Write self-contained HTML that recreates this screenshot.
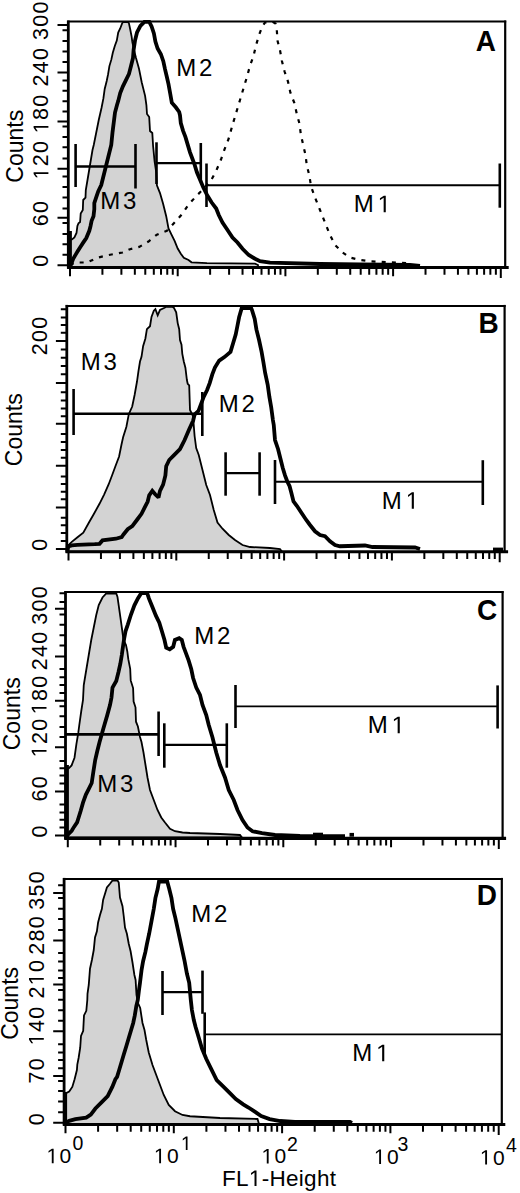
<!DOCTYPE html>
<html><head><meta charset="utf-8"><title>FL1-Height histograms</title>
<style>
html,body{margin:0;padding:0;background:#fff;}
body{width:520px;height:1193px;overflow:hidden;}
svg{display:block;font-family:"Liberation Sans", sans-serif;}
text{font-family:"Liberation Sans", sans-serif;fill:#000;}
</style></head><body>
<svg width="520" height="1193" viewBox="0 0 520 1193">
<rect x="0" y="0" width="520" height="1193" fill="#fff"/>
<polygon points="68.8,267.4 68.8,239.5 72,239.4 74.4,237.5 76.5,233 77.4,226 78.5,223.2 80.1,222 80.7,213.5 82.8,210 83.2,200 85.5,197.7 85.8,190 87.5,180 90,165 92.5,150 93.75,145 96.25,132.5 98.75,120 101.5,108 103.4,98.4 104.7,89 106.7,81 108.1,74.2 109.4,66.1 111.4,59.4 112.8,52.7 114.8,46 116.8,40.6 118.2,32.5 120.2,28.5 122.2,23.1 123,22.2 128,22.2 128.9,23.1 130.3,29.8 131.6,36.5 132.3,41.9 134,50 136,58 139,68.8 141.7,82.3 145.1,95.8 146.4,105 147,114 149.2,117 150,131 152.3,133 153.1,146 154.6,161.5 156.2,172 156.9,185.4 160,193.1 163.1,203.8 166.2,216.2 168.5,228.5 171.5,234.6 174.6,240.8 177.7,248.5 180.8,253.8 183.8,257.7 188.5,260 191.5,262.3 206.9,263.1 255,263.6 258,265 258,267.4" fill="#d3d3d3" stroke="#000" stroke-width="1.8" stroke-linejoin="miter"/>
<polyline points="70,265 75.4,262.5 87,262.5 97.5,257.7 107,255.3 122.5,252.5 130,249.2 139.2,246.9 148.5,241.5 156.9,234.6 166.9,230.8 176.2,220.8 182.3,213.8 188.5,204.6 197.7,194.6 203.75,188.75 211.25,180 216.2,170.8 220.8,160 224.6,149.2 228.5,139.2 232.5,125 236.25,112.5 240,100 243.75,87.5 247.5,75 249.9,66 253.4,56.5 256,45.3 259.4,34 262.5,26 265,22.5 272.5,21.8 275.5,23.5 276.7,28.8 277.6,41 280.2,51.3 281.9,60.9 284.5,71.3 288,81.6 290.4,92.7 294.4,103.1 296.7,113.5 299.5,123.8 300.8,134.2 303.1,144.6 305.5,155 306.8,165.4 309.4,175.8 311,186.2 314.6,196.5 320,210 325,222.5 330,235 335,245 342.5,252.5 350,257.5 360,260 370,261.25 412,263.5" fill="none" stroke="#000" stroke-width="2.2" stroke-dasharray="4 6.2"/>
<polyline points="70,267 70.8,265 73.2,258.8 75.5,254.9 77.8,251.1 80.2,247.2 83.2,242.6 86.3,238 89.3,230.8 90.5,226.2 91.6,220.8 93.5,216.2 94.3,209.2 94.3,203.1 96.6,196.2 98.2,191.5 101.25,185 103.75,175 106.25,165 108.75,155 111.25,145 112.5,132.5 113.75,122.5 115,112.5 117,105 118.2,101.1 120.2,93.1 122.9,86.3 126.2,79.6 128.9,74.2 131,66.1 133,58 133.6,50 135,40.6 137,32.5 140.4,25.8 144.4,21.8 149.3,21.8 151.6,26.5 153.9,33.5 155.4,41.5 157.6,48.5 160.9,54.2 163.3,61.2 165,69.2 166.7,76.2 168.5,84.2 170.2,93.5 171.8,102.7 175.8,107.3 179.2,112 180,115.4 180.8,123.1 183.1,130.8 185.4,136.9 187.7,144.6 190,152.3 192.3,158.5 194.6,164.6 196.9,172.3 199.2,177.7 203.1,186.9 206.9,194.6 211.5,202.3 216.2,208.5 218.75,215 222.5,222.5 227.5,230 232.5,237.5 237.5,242.5 242.5,248.75 248.75,255 255,258.75 260,261.25 270,262.6 320,264 360,264.5 410,265 420,266" fill="none" stroke="#000" stroke-width="3.8" stroke-linejoin="miter" stroke-miterlimit="2"/>
<polyline points="70,231 70,267" fill="none" stroke="#000" stroke-width="3.8"/>
<line x1="75.6" y1="166.5" x2="135.5" y2="166.5" stroke="#000" stroke-width="2.6"/>
<line x1="75.6" y1="144" x2="75.6" y2="187" stroke="#000" stroke-width="2.6"/>
<line x1="135.5" y1="144" x2="135.5" y2="188.5" stroke="#000" stroke-width="2.6"/>
<line x1="156.5" y1="163.1" x2="200.8" y2="163.1" stroke="#000" stroke-width="2.3"/>
<line x1="156.5" y1="142.3" x2="156.5" y2="184" stroke="#000" stroke-width="2.6"/>
<line x1="200.8" y1="143" x2="200.8" y2="181" stroke="#000" stroke-width="2.6"/>
<line x1="206.5" y1="185.2" x2="499.8" y2="185.2" stroke="#000" stroke-width="1.9"/>
<line x1="206.5" y1="163.5" x2="206.5" y2="207" stroke="#000" stroke-width="2.6"/>
<line x1="499.8" y1="163.5" x2="499.8" y2="207.7" stroke="#000" stroke-width="2.6"/>
<line x1="67.3" y1="21.5" x2="506.2" y2="21.5" stroke="#000" stroke-width="2"/>
<line x1="505.2" y1="20.5" x2="505.2" y2="267.5" stroke="#000" stroke-width="2.2"/>
<line x1="68.3" y1="20.5" x2="68.3" y2="268.5" stroke="#000" stroke-width="2.8"/>
<line x1="67.1" y1="267.5" x2="508.7" y2="267.5" stroke="#000" stroke-width="3.1"/>
<path d="M57.5 25H68.3M57.5 72.5H68.3M57.5 121.6H68.3M57.5 168.8H68.3M57.5 217.7H68.3M57.5 265.2H68.3M62.5 30.2H68.3M62.5 41H68.3M62.5 51.6H68.3M62.5 62H68.3M62.5 80.5H68.3M62.5 90.8H68.3M62.5 101.2H68.3M62.5 111.5H68.3M62.5 126.5H68.3M62.5 136.9H68.3M62.5 147.3H68.3M62.5 158.4H68.3M62.5 176.6H68.3M62.5 187H68.3M62.5 197.5H68.3M62.5 208.5H68.3M62.5 222.9H68.3M62.5 233.9H68.3M62.5 244.3H68.3M62.5 254.8H68.3" stroke="#000" stroke-width="2" fill="none"/>
<path d="M70 267.5V276.3M102.42 267.5V274.7M121.39 267.5V274.7M134.84 267.5V274.7M145.28 267.5V274.7M153.81 267.5V274.7M161.02 267.5V274.7M167.26 267.5V274.7M172.77 267.5V274.7M177.7 267.5V276.3M210.12 267.5V274.7M229.09 267.5V274.7M242.54 267.5V274.7M252.98 267.5V274.7M261.51 267.5V274.7M268.72 267.5V274.7M274.96 267.5V274.7M280.47 267.5V274.7M285.4 267.5V276.3M317.82 267.5V274.7M336.79 267.5V274.7M350.24 267.5V274.7M360.68 267.5V274.7M369.21 267.5V274.7M376.42 267.5V274.7M382.66 267.5V274.7M388.17 267.5V274.7M393.1 267.5V276.3M425.52 267.5V274.7M444.49 267.5V274.7M457.94 267.5V274.7M468.38 267.5V274.7M476.91 267.5V274.7M484.12 267.5V274.7M490.36 267.5V274.7M495.87 267.5V274.7M500.8 267.5V278" stroke="#000" stroke-width="2" fill="none"/>
<g transform="translate(48.4 20.7) rotate(-90)"><text x="-19.24 -5.98 7.28" y="0" font-size="21.5">300</text></g>
<g transform="translate(48.4 67.3) rotate(-90)"><text x="-19.24 -5.98 7.28" y="0" font-size="21.5">240</text></g>
<g transform="translate(48.4 114) rotate(-90)"><path d="M515 0L515 1237L197 1010L197 1180L530 1409L696 1409L696 0Z" transform="translate(-19.24 0) scale(0.01050 -0.01050)"/><text x="-5.98 7.28" y="0" font-size="21.5">80</text></g>
<g transform="translate(48.4 160.2) rotate(-90)"><path d="M515 0L515 1237L197 1010L197 1180L530 1409L696 1409L696 0Z" transform="translate(-19.24 0) scale(0.01050 -0.01050)"/><text x="-5.98 7.28" y="0" font-size="21.5">20</text></g>
<g transform="translate(48.4 213.7) rotate(-90)"><text x="-12.61 0.65" y="0" font-size="21.5">60</text></g>
<g transform="translate(48.4 260.7) rotate(-90)"><text x="-5.98" y="0" font-size="21.5">0</text></g>
<g transform="translate(22.6 146.2) rotate(-90)"><text x="-36.44 -19.83 -7.04 5.76 18.55 24.94" y="0" font-size="23">Counts</text></g>
<text transform="translate(475.8 50.6) scale(1 1.075)" x="0" y="0" font-size="28" font-weight="bold">A</text>
<g transform="translate(100.23 208.6)"><text x="0 22.89" y="0" font-size="24">M3</text></g>
<g transform="translate(176.13 75.6)"><text x="0 22.79" y="0" font-size="24">M2</text></g>
<g transform="translate(353.63 212.2)"><text x="0" y="0" font-size="24">M</text><path d="M515 0L515 1237L197 1010L197 1180L530 1409L696 1409L696 0Z" transform="translate(23.99 0) scale(0.01172 -0.01172)"/></g>
<polygon points="66.8,551.7 66.8,546.5 69.5,544.2 71.8,541.9 77.5,537.3 83.3,532.7 89.1,522.3 93.7,514.2 99.5,503.8 104.1,494.6 108.7,484.2 112.2,475 115.6,465.8 119.1,456.5 121.4,445 123.1,437.3 126.4,426.7 128.8,414.2 132.2,406.5 134.6,395 137,381.5 138.5,370.8 140,361.5 141.5,356.9 143.1,346.2 145.4,338.5 146.9,329.2 150,326.2 151.5,316.9 153.8,310.8 155.4,309.2 157.7,315.4 160,310 164.6,307.7 166.2,306.8 172.3,306.8 173.8,307.7 176.2,312.3 177.7,323.1 179.2,329.2 180,340 181.5,344.6 182.3,353.8 183.8,361.5 185.4,367.7 186.9,380 187.7,383.8 189.2,385.4 190,410 193,416 194.6,436 196.2,448 198.75,455 202.5,470 206.25,485 210,495 213.75,510 217.5,522.5 222.5,528.75 228.75,535 235,540 242.5,545 250,547 270,548 280,549 282,551.5" fill="#d3d3d3" stroke="#000" stroke-width="1.8" stroke-linejoin="miter"/>
<polyline points="67.5,551 68.3,546.5 71.8,545.4 77.5,544.8 94.8,544.2 99.5,543.8 102.5,540.4 115.9,538.7 121.7,537 123.5,534.5 127.7,529.2 132.3,526.2 136.9,520 141.5,513.8 144.6,507.7 147.7,501.5 149.2,495.4 152.3,490.8 155.4,494.5 158.5,497.5 160,490.8 163.1,484.6 165.4,475.4 166.2,466.2 169.2,460 173.8,455.4 180,449.2 184.6,440 189.2,429.2 193.1,420.8 194.6,414.6 198.5,410.8 201.1,403.8 203.7,396.9 207.1,390 209.7,383.1 212.3,374.4 214.9,367.5 219.2,360.6 224.4,357.1 230.5,351.9 233.1,343.3 235.7,334.6 237.4,326 239.1,317.3 241.7,308.2 251.2,308.2 252.1,310.4 254.7,319 256.4,329.4 259,339.8 261.6,351.9 263.4,362.3 265.1,372.7 267.7,384.8 269.4,396.9 271.2,407.3 272.9,420 273.75,425 275,440 278.1,449.2 280.4,458.5 282.7,467.7 285,475.4 287.3,481.5 289.6,486.2 291.2,492.3 293.5,501.5 297,506 301.25,512.5 306.25,520 310,525 315,531.25 320,535 325,536.25 330,541.25 335,545 340,546.25 365,545.5 372.5,547 415,547.5 420,549" fill="none" stroke="#000" stroke-width="3.8" stroke-linejoin="miter" stroke-miterlimit="2"/>
<polyline points="493,549.5 503,549.5" fill="none" stroke="#000" stroke-width="3.8"/>
<line x1="73.6" y1="413.8" x2="202.3" y2="413.8" stroke="#000" stroke-width="2.6"/>
<line x1="73.6" y1="389" x2="73.6" y2="435" stroke="#000" stroke-width="2.6"/>
<line x1="202.3" y1="392" x2="202.3" y2="436" stroke="#000" stroke-width="2.6"/>
<line x1="225.6" y1="473.1" x2="259.6" y2="473.1" stroke="#000" stroke-width="2.3"/>
<line x1="225.6" y1="452.3" x2="225.6" y2="495.7" stroke="#000" stroke-width="2.6"/>
<line x1="259.6" y1="452.3" x2="259.6" y2="495.7" stroke="#000" stroke-width="2.6"/>
<line x1="275" y1="481.8" x2="482.8" y2="481.8" stroke="#000" stroke-width="1.9"/>
<line x1="275" y1="460" x2="275" y2="504" stroke="#000" stroke-width="2.6"/>
<line x1="482.8" y1="460.2" x2="482.8" y2="505" stroke="#000" stroke-width="2.6"/>
<line x1="65.8" y1="305.9" x2="505.6" y2="305.9" stroke="#000" stroke-width="2"/>
<line x1="504.6" y1="304.9" x2="504.6" y2="551.7" stroke="#000" stroke-width="2.2"/>
<line x1="66.8" y1="304.9" x2="66.8" y2="552.7" stroke="#000" stroke-width="2.8"/>
<line x1="65.6" y1="551.7" x2="508.1" y2="551.7" stroke="#000" stroke-width="3.1"/>
<path d="M55.9 340.9H66.8M55.9 382.9H66.8M55.9 423.8H66.8M55.9 465.8H66.8M55.9 507.6H66.8M55.9 549H66.8M60.8 309.3H66.8M60.8 317.5H66.8M60.8 324.9H66.8M60.8 332.7H66.8M60.8 349.6H66.8M60.8 357.8H66.8M60.8 366H66.8M60.8 374.2H66.8M60.8 392.2H66.8M60.8 400.4H66.8M60.8 408.5H66.8M60.8 416.2H66.8M60.8 434.1H66.8M60.8 442H66.8M60.8 449.9H66.8M60.8 457.8H66.8M60.8 476.5H66.8M60.8 483.9H66.8M60.8 491.8H66.8M60.8 499.2H66.8M60.8 517.8H66.8M60.8 525.2H66.8M60.8 533.1H66.8M60.8 541H66.8" stroke="#000" stroke-width="2" fill="none"/>
<path d="M68.5 551.7V560.5M100.95 551.7V558.9M119.93 551.7V558.9M133.4 551.7V558.9M143.85 551.7V558.9M152.38 551.7V558.9M159.6 551.7V558.9M165.85 551.7V558.9M171.37 551.7V558.9M176.3 551.7V560.5M208.75 551.7V558.9M227.73 551.7V558.9M241.2 551.7V558.9M251.65 551.7V558.9M260.18 551.7V558.9M267.4 551.7V558.9M273.65 551.7V558.9M279.17 551.7V558.9M284.1 551.7V560.5M316.55 551.7V558.9M335.53 551.7V558.9M349 551.7V558.9M359.45 551.7V558.9M367.98 551.7V558.9M375.2 551.7V558.9M381.45 551.7V558.9M386.97 551.7V558.9M391.9 551.7V560.5M424.35 551.7V558.9M443.33 551.7V558.9M456.8 551.7V558.9M467.25 551.7V558.9M475.78 551.7V558.9M483 551.7V558.9M489.25 551.7V558.9M494.77 551.7V558.9M499.7 551.7V562.2" stroke="#000" stroke-width="2" fill="none"/>
<g transform="translate(46.9 336) rotate(-90)"><text x="-19.24 -5.98 7.28" y="0" font-size="21.5">200</text></g>
<g transform="translate(46.9 544.7) rotate(-90)"><text x="-5.98" y="0" font-size="21.5">0</text></g>
<g transform="translate(21.8 429.7) rotate(-90)"><text x="-36.44 -19.83 -7.04 5.76 18.55 24.94" y="0" font-size="23">Counts</text></g>
<text transform="translate(478.5 333.2) scale(1 1.075)" x="0" y="0" font-size="28" font-weight="bold">B</text>
<g transform="translate(80.73 369.7)"><text x="0 22.89" y="0" font-size="24">M3</text></g>
<g transform="translate(218.83 412.3)"><text x="0 22.79" y="0" font-size="24">M2</text></g>
<g transform="translate(381.73 508.8)"><text x="0" y="0" font-size="24">M</text><path d="M515 0L515 1237L197 1010L197 1180L530 1409L696 1409L696 0Z" transform="translate(23.99 0) scale(0.01172 -0.01172)"/></g>
<polygon points="65.5,837.5 65.5,768.5 68.7,768.3 71.6,765.4 74.5,757.7 76.4,744.2 78.3,732.7 79.3,725 81.2,711.5 83,700 83.75,685 86.25,670 88.75,655 91.25,640 93.75,627.5 96.25,615 98.75,605 102.5,597.5 106.25,593.5 116.25,593.5 117.5,597 118.7,605.3 120.4,617.4 122.1,629.5 123.5,640 126,645 127.3,651.5 128.3,659.2 130.2,668.8 130.7,680.4 133.1,688.1 133.6,701.5 135.5,707.3 136,721.7 137.9,726.5 140,737 141.5,742 143.5,752.5 145.5,765 147.5,777.5 150,790 153.75,800 157.5,810 161.25,817.5 165,822.5 170,828.75 175,831.25 182.5,832.5 190,833 220,834 240,835 242,837.5" fill="#d3d3d3" stroke="#000" stroke-width="1.8" stroke-linejoin="miter"/>
<polyline points="66.25,837.5 68.6,833.8 71.7,830.8 74,826.9 77.1,822.3 78.8,817 80.8,810.5 83,802.7 85.9,794.6 88.8,788.8 91.7,783 93.4,771.5 95.2,760 97.3,751 99.5,742.3 103.3,728.8 107.2,715.4 110,705 111.5,697.5 112.5,687.5 116.25,681 118.5,672 120.3,664 121.8,655 123.2,645 124.2,638.5 125.5,631.3 127.8,624.6 131,614.5 134.4,605.3 137.9,598.4 141.2,593.2 147.2,593.2 148.9,598.4 152.4,607 155.9,615.7 159.3,622.6 161.9,631.3 164.5,640 166.2,647.7 169.7,649.4 173.2,646.8 174.9,640 179.2,638.2 181.8,640 183.6,646.8 186.2,653.8 188.7,660.7 191.3,669.3 193.1,678 196.25,687.5 200,695 202.5,705 206.25,715 208.75,725 212.5,737.5 216.25,752.5 220,765 225,777.5 228.75,790 233.75,800 237.5,810 242.5,820 247.5,827.5 252.5,831.25 262,833.2 275,835 300,835.8 345,836.2" fill="none" stroke="#000" stroke-width="3.8" stroke-linejoin="miter" stroke-miterlimit="2"/>
<polyline points="67,765 67,837" fill="none" stroke="#000" stroke-width="3.8"/>
<polyline points="313,834.6 323,834.6" fill="none" stroke="#000" stroke-width="3.8"/>
<polyline points="349.5,834.8 354,834.8" fill="none" stroke="#000" stroke-width="3.8"/>
<line x1="65.5" y1="734.4" x2="158.6" y2="734.4" stroke="#000" stroke-width="2.6"/>
<line x1="158.6" y1="711.5" x2="158.6" y2="756" stroke="#000" stroke-width="2.6"/>
<line x1="164.3" y1="744.8" x2="226.8" y2="744.8" stroke="#000" stroke-width="2.3"/>
<line x1="164.3" y1="723.3" x2="164.3" y2="767.7" stroke="#000" stroke-width="2.6"/>
<line x1="226.8" y1="723.3" x2="226.8" y2="767.7" stroke="#000" stroke-width="2.6"/>
<line x1="235.5" y1="706.4" x2="497.6" y2="706.4" stroke="#000" stroke-width="1.9"/>
<line x1="235.5" y1="685" x2="235.5" y2="728" stroke="#000" stroke-width="2.6"/>
<line x1="497.6" y1="685.4" x2="497.6" y2="728.5" stroke="#000" stroke-width="2.6"/>
<line x1="64.5" y1="592.1" x2="503.6" y2="592.1" stroke="#000" stroke-width="2"/>
<line x1="502.6" y1="591.1" x2="502.6" y2="838.4" stroke="#000" stroke-width="2.2"/>
<line x1="65.5" y1="591.1" x2="65.5" y2="839.4" stroke="#000" stroke-width="2.8"/>
<line x1="64.3" y1="838.4" x2="506.1" y2="838.4" stroke="#000" stroke-width="3.1"/>
<path d="M55 608.8H65.5M55 656.5H65.5M55 700.7H65.5M55 747.3H65.5M55 791.4H65.5M55 835.6H65.5M59.5 593.2H65.5M59.5 601.9H65.5M59.5 614.5H65.5M59.5 624.8H65.5M59.5 635.2H65.5M59.5 645.6H65.5M59.5 669.1H65.5M59.5 677.2H65.5M59.5 684.9H65.5M59.5 693.1H65.5M59.5 706.2H65.5M59.5 716.2H65.5M59.5 727H65.5M59.5 737.1H65.5M59.5 760.9H65.5M59.5 768.3H65.5M59.5 775.6H65.5M59.5 783.5H65.5M59.5 804.5H65.5M59.5 812.4H65.5M59.5 819.7H65.5M59.5 827.6H65.5" stroke="#000" stroke-width="2" fill="none"/>
<path d="M67.8 838.4V847.2M100.24 838.4V845.6M119.21 838.4V845.6M132.67 838.4V845.6M143.11 838.4V845.6M151.65 838.4V845.6M158.86 838.4V845.6M165.11 838.4V845.6M170.62 838.4V845.6M175.55 838.4V847.2M207.99 838.4V845.6M226.96 838.4V845.6M240.42 838.4V845.6M250.86 838.4V845.6M259.4 838.4V845.6M266.61 838.4V845.6M272.86 838.4V845.6M278.37 838.4V845.6M283.3 838.4V847.2M315.74 838.4V845.6M334.71 838.4V845.6M348.17 838.4V845.6M358.61 838.4V845.6M367.15 838.4V845.6M374.36 838.4V845.6M380.61 838.4V845.6M386.12 838.4V845.6M391.05 838.4V847.2M423.49 838.4V845.6M442.46 838.4V845.6M455.92 838.4V845.6M466.36 838.4V845.6M474.9 838.4V845.6M482.11 838.4V845.6M488.36 838.4V845.6M493.87 838.4V845.6M498.8 838.4V848.9" stroke="#000" stroke-width="2" fill="none"/>
<g transform="translate(46.5 605.6) rotate(-90)"><text x="-19.24 -5.98 7.28" y="0" font-size="21.5">300</text></g>
<g transform="translate(46.5 651) rotate(-90)"><text x="-19.24 -5.98 7.28" y="0" font-size="21.5">240</text></g>
<g transform="translate(46.5 695) rotate(-90)"><path d="M515 0L515 1237L197 1010L197 1180L530 1409L696 1409L696 0Z" transform="translate(-19.24 0) scale(0.01050 -0.01050)"/><text x="-5.98 7.28" y="0" font-size="21.5">80</text></g>
<g transform="translate(46.5 738) rotate(-90)"><path d="M515 0L515 1237L197 1010L197 1180L530 1409L696 1409L696 0Z" transform="translate(-19.24 0) scale(0.01050 -0.01050)"/><text x="-5.98 7.28" y="0" font-size="21.5">20</text></g>
<g transform="translate(46.5 789) rotate(-90)"><text x="-12.61 0.65" y="0" font-size="21.5">60</text></g>
<g transform="translate(46.5 831.6) rotate(-90)"><text x="-5.98" y="0" font-size="21.5">0</text></g>
<g transform="translate(20.4 713.8) rotate(-90)"><text x="-36.44 -19.83 -7.04 5.76 18.55 24.94" y="0" font-size="23">Counts</text></g>
<text transform="translate(477 620) scale(1 1.075)" x="0" y="0" font-size="28" font-weight="bold">C</text>
<g transform="translate(97.23 792.3)"><text x="0 22.89" y="0" font-size="24">M3</text></g>
<g transform="translate(194.33 644.3)"><text x="0 22.79" y="0" font-size="24">M2</text></g>
<g transform="translate(367.63 733.2)"><text x="0" y="0" font-size="24">M</text><path d="M515 0L515 1237L197 1010L197 1180L530 1409L696 1409L696 0Z" transform="translate(23.99 0) scale(0.01172 -0.01172)"/></g>
<polygon points="64.1,1124 64.1,1093 66.2,1093 69.2,1091.5 72.3,1086.9 74.6,1079.2 76.9,1070 77.3,1064.6 78.6,1058 80.2,1047.7 81,1036 83.2,1030.8 84,1015.4 86.3,1010.8 87.3,1000 87.5,993.75 88.75,985 90,968.75 91.9,960 93.75,950 95,937.5 96.9,931.25 98.1,922.5 100,915 101.9,908.75 103.1,900 105,893.75 106.9,887.5 110,883.75 112.5,880.5 117.5,880.5 118.75,882.5 120,897.5 122.5,906.25 123.75,916.25 125,927.5 126.9,933.75 128.75,943.75 130.6,951.25 132.5,962.5 134.4,975 135.6,980 136.5,995 138,1003 140.2,1008 142.5,1023 144.5,1030 146.25,1040 148.75,1052.5 152.5,1065 156.25,1075 160,1085 163.75,1095 168.75,1105 175,1111.25 182.5,1115 190,1116.25 220,1118 257.5,1119 259,1124" fill="#d3d3d3" stroke="#000" stroke-width="1.8" stroke-linejoin="miter"/>
<polyline points="65,1123 66.2,1122.3 69.2,1120.8 75.4,1119.2 86.2,1117.7 90.8,1114.6 95.4,1108.5 101.5,1102.3 107.7,1096.2 112.3,1086.9 115.4,1079.2 117.1,1076.9 119.4,1069.2 121.7,1061.5 124,1053.8 126.3,1046.2 128.6,1038.5 130.9,1030.8 133.2,1023 134.8,1015.4 136.3,1006.2 137.8,1000 139,990 140,982.7 141.5,970.4 143.1,961.2 145.4,951.9 146.9,944.2 149.2,933.5 151.5,921.2 153.8,908.8 155.4,898.1 157.7,888.8 159,881.5 167.2,881.5 169.2,888.8 171.5,898.1 173.1,908.8 175.4,918.1 177.7,928.8 180,939.6 182.3,950.4 184.6,961.2 186.9,973.5 189.2,982.7 190.8,1000 191.9,1010 193.8,1020 195.6,1027 198.8,1037.7 201.9,1048.3 206.2,1058.8 211.4,1069.4 216.7,1080 223.1,1086.3 229.4,1092.7 235.8,1099 243.2,1104.3 248.5,1107.5 254.8,1111.7 261.2,1116 269.6,1119.1 280.2,1121 295,1121.8 350,1122 352,1123" fill="none" stroke="#000" stroke-width="3.8" stroke-linejoin="miter" stroke-miterlimit="2"/>
<polyline points="65.2,1093 65.2,1124" fill="none" stroke="#000" stroke-width="3.8"/>
<line x1="162.5" y1="992.2" x2="202.5" y2="992.2" stroke="#000" stroke-width="2.3"/>
<line x1="162.5" y1="971" x2="162.5" y2="1015" stroke="#000" stroke-width="2.6"/>
<line x1="202.5" y1="970.6" x2="202.5" y2="1013.8" stroke="#000" stroke-width="2.6"/>
<line x1="204.7" y1="1034.4" x2="501" y2="1034.4" stroke="#000" stroke-width="1.9"/>
<line x1="204.7" y1="1012.4" x2="204.7" y2="1056" stroke="#000" stroke-width="2.6"/>
<line x1="63.1" y1="878.9" x2="502.8" y2="878.9" stroke="#000" stroke-width="2"/>
<line x1="501.8" y1="877.9" x2="501.8" y2="1124.5" stroke="#000" stroke-width="2.2"/>
<line x1="64.1" y1="877.9" x2="64.1" y2="1125.5" stroke="#000" stroke-width="2.8"/>
<line x1="62.9" y1="1124.5" x2="505.3" y2="1124.5" stroke="#000" stroke-width="3.1"/>
<path d="M53.2 892.9H64.1M53.2 940.4H64.1M53.2 984.5H64.1M53.2 1031.3H64.1M53.2 1075.9H64.1M53.2 1122.7H64.1M58.1 885.3H64.1M58.1 898.1H64.1M58.1 908.7H64.1M58.1 919.1H64.1M58.1 930H64.1M58.1 952.9H64.1M58.1 961.6H64.1M58.1 970.4H64.1M58.1 978H64.1M58.1 990H64.1M58.1 999.7H64.1M58.1 1010.2H64.1M58.1 1020.8H64.1M58.1 1044.2H64.1M58.1 1052.4H64.1M58.1 1060H64.1M58.1 1068.2H64.1M58.1 1081.1H64.1M58.1 1091.1H64.1M58.1 1101.6H64.1M58.1 1112.2H64.1" stroke="#000" stroke-width="2" fill="none"/>
<path d="M65.5 1124.5V1133.3M98.1 1124.5V1131.7M117.17 1124.5V1131.7M130.7 1124.5V1131.7M141.2 1124.5V1131.7M149.77 1124.5V1131.7M157.02 1124.5V1131.7M163.3 1124.5V1131.7M168.84 1124.5V1131.7M173.8 1124.5V1133.3M206.4 1124.5V1131.7M225.47 1124.5V1131.7M239 1124.5V1131.7M249.5 1124.5V1131.7M258.07 1124.5V1131.7M265.32 1124.5V1131.7M271.6 1124.5V1131.7M277.14 1124.5V1131.7M282.1 1124.5V1133.3M314.7 1124.5V1131.7M333.77 1124.5V1131.7M347.3 1124.5V1131.7M357.8 1124.5V1131.7M366.37 1124.5V1131.7M373.62 1124.5V1131.7M379.9 1124.5V1131.7M385.44 1124.5V1131.7M390.4 1124.5V1133.3M423 1124.5V1131.7M442.07 1124.5V1131.7M455.6 1124.5V1131.7M466.1 1124.5V1131.7M474.67 1124.5V1131.7M481.92 1124.5V1131.7M488.2 1124.5V1131.7M493.74 1124.5V1131.7M498.7 1124.5V1135" stroke="#000" stroke-width="2" fill="none"/>
<g transform="translate(43.8 890.5) rotate(-90)"><text x="-19.24 -5.98 7.28" y="0" font-size="21.5">350</text></g>
<g transform="translate(43.8 935.5) rotate(-90)"><text x="-19.24 -5.98 7.28" y="0" font-size="21.5">280</text></g>
<g transform="translate(43.8 979.3) rotate(-90)"><text x="-19.24" y="0" font-size="21.5">2</text><path d="M515 0L515 1237L197 1010L197 1180L530 1409L696 1409L696 0Z" transform="translate(-5.98 0) scale(0.01050 -0.01050)"/><text x="7.28" y="0" font-size="21.5">0</text></g>
<g transform="translate(43.8 1026) rotate(-90)"><path d="M515 0L515 1237L197 1010L197 1180L530 1409L696 1409L696 0Z" transform="translate(-19.24 0) scale(0.01050 -0.01050)"/><text x="-5.98 7.28" y="0" font-size="21.5">40</text></g>
<g transform="translate(43.8 1071) rotate(-90)"><text x="-12.61 0.65" y="0" font-size="21.5">70</text></g>
<g transform="translate(43.8 1119.4) rotate(-90)"><text x="-5.98" y="0" font-size="21.5">0</text></g>
<g transform="translate(18.4 1003.4) rotate(-90)"><text x="-36.44 -19.83 -7.04 5.76 18.55 24.94" y="0" font-size="23">Counts</text></g>
<text transform="translate(476.8 904.9) scale(1 1.075)" x="0" y="0" font-size="28" font-weight="bold">D</text>
<g transform="translate(191.23 922.2)"><text x="0 22.79" y="0" font-size="24">M2</text></g>
<g transform="translate(352.13 1061.2)"><text x="0" y="0" font-size="24">M</text><path d="M515 0L515 1237L197 1010L197 1180L530 1409L696 1409L696 0Z" transform="translate(23.99 0) scale(0.01172 -0.01172)"/></g>
<g transform="translate(46.5 1163.2)"><path d="M515 0L515 1237L197 1010L197 1180L530 1409L696 1409L696 0Z" transform="translate(0 0) scale(0.01025 -0.01025)"/><text x="13.08" y="0" font-size="21">0</text></g>
<g transform="translate(72.4 1150)"><text x="0" y="0" font-size="19.5">0</text></g>
<g transform="translate(153.9 1163.2)"><path d="M515 0L515 1237L197 1010L197 1180L530 1409L696 1409L696 0Z" transform="translate(0 0) scale(0.01025 -0.01025)"/><text x="13.08" y="0" font-size="21">0</text></g>
<g transform="translate(180.9 1150)"><path d="M515 0L515 1237L197 1010L197 1180L530 1409L696 1409L696 0Z" transform="translate(0 0) scale(0.00952 -0.00952)"/></g>
<g transform="translate(261.5 1163.4)"><path d="M515 0L515 1237L197 1010L197 1180L530 1409L696 1409L696 0Z" transform="translate(0 0) scale(0.01025 -0.01025)"/><text x="13.08" y="0" font-size="21">0</text></g>
<g transform="translate(287 1150.5)"><text x="0" y="0" font-size="19.5">2</text></g>
<g transform="translate(373.9 1164)"><path d="M515 0L515 1237L197 1010L197 1180L530 1409L696 1409L696 0Z" transform="translate(0 0) scale(0.01025 -0.01025)"/><text x="13.08" y="0" font-size="21">0</text></g>
<g transform="translate(397.6 1151)"><text x="0" y="0" font-size="19.5">3</text></g>
<g transform="translate(479.9 1164.6)"><path d="M515 0L515 1237L197 1010L197 1180L530 1409L696 1409L696 0Z" transform="translate(0 0) scale(0.01025 -0.01025)"/><text x="13.08" y="0" font-size="21">0</text></g>
<g transform="translate(506 1151.9)"><text x="0" y="0" font-size="19.5">4</text></g>
<g transform="translate(222 1186)"><text x="0 14.04" y="0" font-size="22.5">FL</text><path d="M515 0L515 1237L197 1010L197 1180L530 1409L696 1409L696 0Z" transform="translate(26.86 0) scale(0.01099 -0.01099)"/><text x="39.67 47.46 64.01 76.83 82.12 94.94 107.75" y="0" font-size="22.5">-Height</text></g>
</svg>
</body></html>
